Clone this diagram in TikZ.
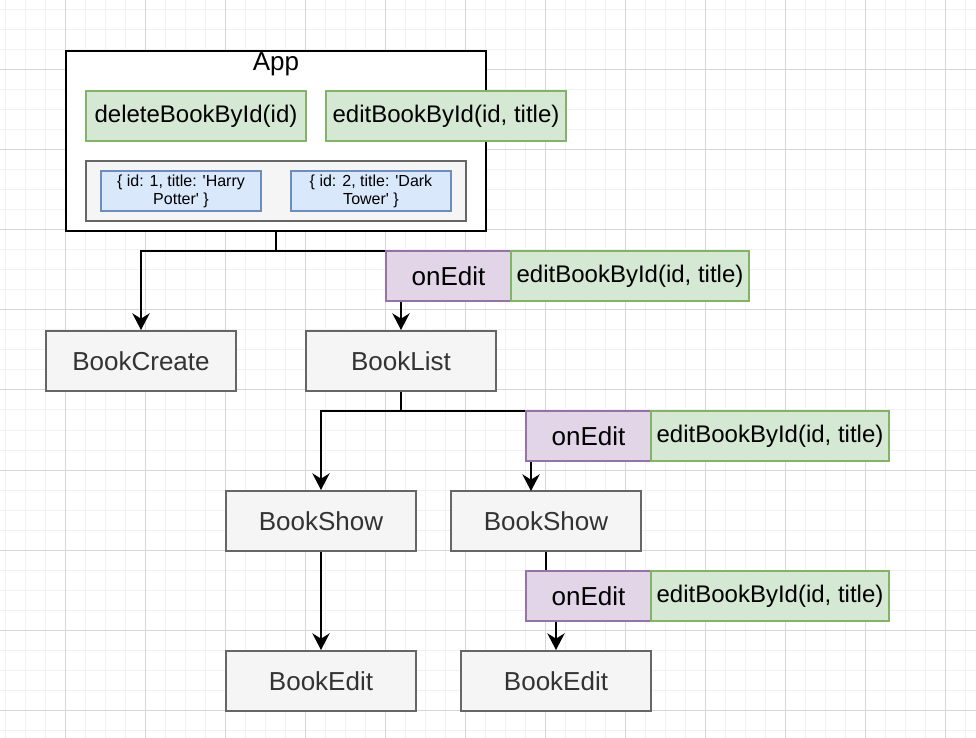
\documentclass[tikz,border=0pt]{standalone}
\usepackage{fontspec}
\setmainfont{Liberation Sans}
\usetikzlibrary{arrows.meta,calc}
\newlength{\pxu}\setlength{\pxu}{0.75pt}
\definecolor{gminor}{HTML}{F1F1F1}
\definecolor{gmajor}{HTML}{D6D6D6}
\definecolor{grayfill}{HTML}{F5F5F5}
\definecolor{grayline}{HTML}{666666}
\definecolor{graytext}{HTML}{333333}
\definecolor{greenfill}{HTML}{D5E8D4}
\definecolor{greenline}{HTML}{82B366}
\definecolor{purplefill}{HTML}{E1D5E7}
\definecolor{purpleline}{HTML}{9673A6}
\definecolor{bluefill}{HTML}{DAE8FC}
\definecolor{blueline}{HTML}{6C8EBF}
\tikzset{
  base/.style={rectangle, inner sep=0pt, line width=1.5pt},
  comp/.style={base, draw=grayline, fill=grayfill, text=graytext,
    minimum width=190\pxu, minimum height=60\pxu, font=\fontsize{19.5}{22}\selectfont},
  fn/.style={base, draw=greenline, fill=greenfill, minimum height=50\pxu,
    font=\fontsize{18}{21}\selectfont},
  prop/.style={base, draw=purpleline, fill=purplefill, minimum width=125\pxu,
    minimum height=50\pxu, font=\fontsize{19.5}{22}\selectfont},
  rec/.style={base, draw=blueline, fill=bluefill, minimum width=160\pxu,
    minimum height=40\pxu, align=center, font=\fontsize{12}{13.5}\selectfont},
  arr/.style={line width=1.5pt, -{Stealth[length=12.5pt, width=13pt, inset=4pt]}},
  ln/.style={line width=1.5pt},
}
\begin{document}
\begin{tikzpicture}[x=0.75pt, y=-0.75pt]
\useasboundingbox (0,0) rectangle (976,738);
\fill[white] (0,0) rectangle (976,738);
% grid
\foreach \x in {5,25,...,965} \draw[gminor, line width=0.75pt] (\x,0) -- (\x,738);
\foreach \y in {10,30,...,730} \draw[gminor, line width=0.75pt] (0,\y) -- (976,\y);
\foreach \x in {65,145,...,945} \draw[gmajor, line width=0.75pt] (\x,0) -- (\x,738);
\foreach \y in {70,150,...,710} \draw[gmajor, line width=0.75pt] (0,\y) -- (976,\y);

% App container
\node[base, draw=black, fill=white, minimum width=420\pxu, minimum height=180\pxu] (app) at (276,141) {};
\node[font=\fontsize{19.5}{22}\selectfont, inner sep=0pt] (applbl) at (276,64) {App};
\node[fn, minimum width=220\pxu] (del) at (196,116) {deleteBookById(id)};
\node[fn, minimum width=240\pxu] (edit0) at (446,116) {editBookById(id, title)};
\node[base, draw=grayline, fill=grayfill, minimum width=380\pxu, minimum height=60\pxu] (state) at (276,191) {};
\node[rec] (b1) at (181,191) {\{ id: 1, title: \textquotesingle Harry\\Potter\textquotesingle\ \}};
\node[rec] (b2) at (371,191) {\{ id: 2, title: \textquotesingle Dark\\Tower\textquotesingle\ \}};

% components
\node[comp] (create) at (141,361) {BookCreate};
\node[comp] (list) at (401,361) {BookList};
\node[comp] (show1) at (321,521) {BookShow};
\node[comp] (show2) at (546,521) {BookShow};
\node[comp] (edit1) at (321,681) {BookEdit};
\node[comp] (edit2) at (556,681) {BookEdit};

% connectors
\coordinate (j1) at (276,251);
\coordinate (j2) at (401,411);
\coordinate (t2) at (531,491);
\draw[ln] (app.south) -- (j1);
\draw[arr] (j1) -| (create.north);
\draw[arr] (j1) -| (list.north);
\draw[ln] (list.south) -- (j2);
\draw[arr] (j2) -| (show1.north);
\draw[arr] (j2) -| (t2);
\draw[arr] (show1.south) -- (edit1.north);
\draw[arr] (show2.south) -- ++(0,60) -| (edit2.north);

% prop labels
\node[prop] (oe1) at (448.5,276) {onEdit};
\node[fn, minimum width=238\pxu] (ed1) at (630,276) {editBookById(id, title)};
\node[prop] (oe2) at (588.5,436) {onEdit};
\node[fn, minimum width=238\pxu] (ed2) at (770,436) {editBookById(id, title)};
\node[prop] (oe3) at (588.5,596) {onEdit};
\node[fn, minimum width=238\pxu] (ed3) at (770,596) {editBookById(id, title)};
\end{tikzpicture}
\end{document}
